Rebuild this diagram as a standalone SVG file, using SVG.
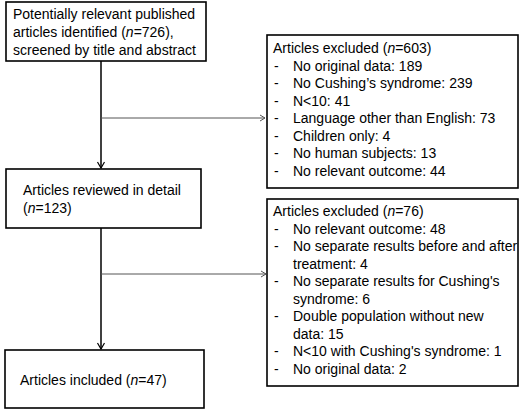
<svg xmlns="http://www.w3.org/2000/svg" width="520" height="410" viewBox="0 0 520 410">
<defs>
<marker id="ah" markerWidth="10" markerHeight="10" refX="7" refY="4" orient="auto" markerUnits="userSpaceOnUse">
<path d="M1,0.5 L7,4 L1,7.5" fill="none" stroke="#000" stroke-width="1.2"/>
</marker>
<marker id="ahs" markerWidth="10" markerHeight="10" refX="6" refY="4" orient="auto" markerUnits="userSpaceOnUse">
<path d="M1,1 L6,4 L1,7" fill="none" stroke="#555" stroke-width="1"/>
</marker>
</defs>
<style>
rect{fill:#fff;stroke:#000;stroke-width:1.6}
text{font-family:"Liberation Sans",Arial,sans-serif;font-size:14px;fill:#000}
.v{stroke:#000;stroke-width:1.5;fill:none}
.h{stroke:#555;stroke-width:1;fill:none}
</style>
<rect x="0" y="0" width="520" height="410" style="stroke:none"/>
<g id="connectors">
<line class="v" x1="101" y1="61" x2="101" y2="168" marker-end="url(#ah)"/>
<line class="v" x1="101" y1="228" x2="101" y2="349" marker-end="url(#ah)"/>
<line class="h" x1="101" y1="118" x2="265" y2="118" marker-end="url(#ahs)"/>
<line class="h" x1="101" y1="274" x2="266" y2="274" marker-end="url(#ahs)"/>
</g>
<g id="n1">
<rect x="6" y="2" width="200" height="59"/>
<text x="13" y="19">Potentially relevant published</text>
<text x="13" y="37">articles identified (<tspan font-style="italic">n</tspan>=726),</text>
<text x="13" y="55">screened by title and abstract</text>
</g>
<g id="n2">
<rect x="6" y="169" width="195" height="59"/>
<text x="23" y="195">Articles reviewed in detail</text>
<text x="23" y="213">(<tspan font-style="italic">n</tspan>=123)</text>
</g>
<g id="n3">
<rect x="5" y="350" width="199" height="58"/>
<text x="20" y="385">Articles included (<tspan font-style="italic">n</tspan>=47)</text>
</g>
<g id="ex1">
<rect x="267" y="35" width="251" height="153"/>
<text x="273" y="53">Articles excluded (<tspan font-style="italic">n</tspan>=603)</text>
<text x="274" y="70.5">-</text><text x="293" y="70.5">No original data: 189</text>
<text x="274" y="88">-</text><text x="293" y="88">No Cushing’s syndrome: 239</text>
<text x="274" y="105.5">-</text><text x="293" y="105.5">N&lt;10: 41</text>
<text x="274" y="123">-</text><text x="293" y="123">Language other than English: 73</text>
<text x="274" y="140.5">-</text><text x="293" y="140.5">Children only: 4</text>
<text x="274" y="158">-</text><text x="293" y="158">No human subjects: 13</text>
<text x="274" y="175.5">-</text><text x="293" y="175.5">No relevant outcome: 44</text>
</g>
<g id="ex2">
<rect x="267" y="199" width="251" height="187"/>
<text x="273" y="216">Articles excluded (<tspan font-style="italic">n</tspan>=76)</text>
<text x="274" y="233.5">-</text><text x="293" y="233.5">No relevant outcome: 48</text>
<text x="274" y="251">-</text><text x="293" y="251">No separate results before and after</text>
<text x="293" y="268.5">treatment: 4</text>
<text x="274" y="286">-</text><text x="293" y="286">No separate results for Cushing's</text>
<text x="293" y="303.5">syndrome: 6</text>
<text x="274" y="321">-</text><text x="293" y="321">Double population without new</text>
<text x="293" y="338.5">data: 15</text>
<text x="274" y="356">-</text><text x="293" y="356">N&lt;10 with Cushing's syndrome: 1</text>
<text x="274" y="373.5">-</text><text x="293" y="373.5">No original data: 2</text>
</g>
</svg>
